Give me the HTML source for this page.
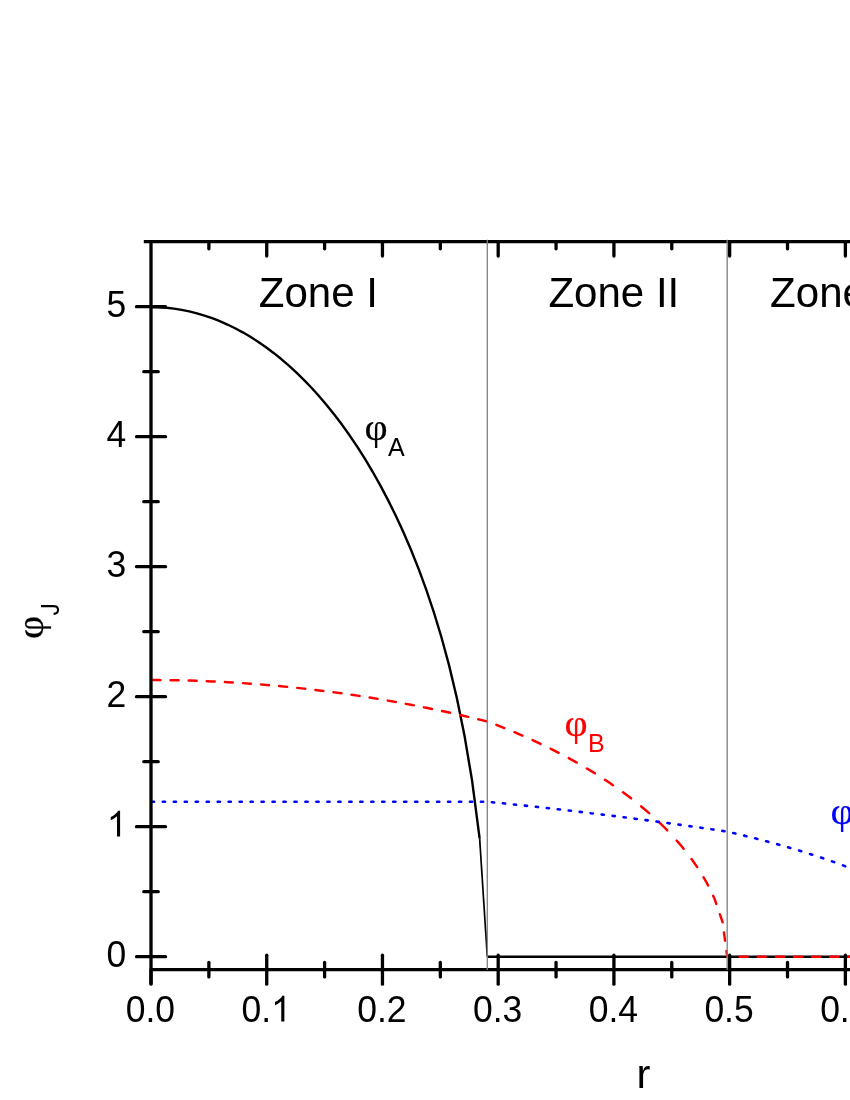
<!DOCTYPE html>
<html><head><meta charset="utf-8"><title>phi</title>
<style>
html,body{margin:0;padding:0;background:#fff;}
body{width:850px;height:1100px;overflow:hidden;}
svg{display:block;will-change:transform;}
text{font-family:"Liberation Sans",sans-serif;fill:inherit;}
.tk{font-size:36.7px;fill:#000;}
.zn{font-size:42.9px;fill:#000;}
.ax{font-size:41px;fill:#000;}
.ph{font-family:"Liberation Serif",serif;font-size:38.6px;}
.sb{font-size:25.9px;}
</style></head><body>
<svg width="850" height="1100" viewBox="0 0 850 1100">
<rect width="850" height="1100" fill="#fff"/>
<path d="M151.00,307.09 L158.64,307.26 L166.29,307.78 L173.93,308.64 L181.57,309.85 L189.22,311.41 L196.86,313.32 L204.50,315.58 L212.15,318.20 L219.79,321.18 L227.43,324.53 L235.07,328.25 L242.72,332.34 L250.36,336.83 L258.00,341.70 L265.65,346.98 L273.29,352.68 L280.93,358.79 L288.58,365.34 L296.22,372.35 L303.86,379.82 L311.51,387.77 L319.15,396.22 L326.79,405.20 L334.44,414.73 L342.08,424.84 L349.72,435.56 L357.37,446.92 L365.01,458.98 L372.65,471.78 L380.30,485.38 L387.94,499.85 L395.58,515.29 L403.22,531.80 L410.87,549.53 L418.51,568.65 L426.15,589.41 L433.80,612.12 L441.44,637.23 L449.08,665.37 L456.73,697.46 L464.37,734.91 L472.01,780.17 L479.66,838.67" fill="none" stroke="#000" stroke-width="2.4" stroke-linejoin="round"/>
<path d="M479.66,838.67 L487.30,956.70" fill="none" stroke="#000" stroke-width="1.7"/>
<path d="M487.30,956.70 L860.00,956.70" fill="none" stroke="#000" stroke-width="2.4"/>
<path d="M152.45,680.06 L158.64,680.08 L160.45,680.10 M170.55,680.21 L173.93,680.25 L178.55,680.34 M188.65,680.58 L189.22,680.59 L196.65,680.82 M206.75,681.20 L212.15,681.43 L214.75,681.55 M224.85,682.06 L227.43,682.20 L232.85,682.52 M242.95,683.15 L250.36,683.67 L250.95,683.72 M261.05,684.50 L265.65,684.87 L269.05,685.16 M279.15,686.07 L280.93,686.24 L287.15,686.85 M297.25,687.89 L303.86,688.61 L305.25,688.77 M315.35,689.95 L319.15,690.41 L323.35,690.93 M333.45,692.24 L334.44,692.37 L341.45,693.33 M351.55,694.78 L357.37,695.64 L359.55,695.98 M369.65,697.56 L372.65,698.04 L377.65,698.86 M387.75,700.57 L387.94,700.60 L395.58,701.95 L395.75,701.98 M405.85,703.83 L410.87,704.77 L413.85,705.35 M423.95,707.33 L426.15,707.76 L431.95,708.95 M442.05,711.06 L449.08,712.57 L450.05,712.79 M460.15,715.04 L464.37,715.99 L468.15,716.87 M478.25,719.25 L479.66,719.59 L486.25,721.19 M496.35,724.89 L503.84,727.83 L504.35,728.04 M514.45,732.20 L520.04,734.57 L522.45,735.63 M532.55,740.14 L536.24,741.82 L540.55,743.86 M550.65,748.76 L552.44,749.64 L558.65,752.81 M568.75,758.14 L576.75,762.57 L576.75,762.57 M586.85,768.44 L592.95,772.11 L594.85,773.31 M604.95,779.77 L609.15,782.53 L612.95,785.15 M623.05,792.32 L625.35,793.99 L631.05,798.33 M641.15,806.37 L641.56,806.70 L649.15,813.19 M659.25,822.46 L665.86,828.92 L667.20,830.33 M676.70,840.59 L682.06,846.76 L683.61,848.72 M691.53,858.99 L697.22,867.12 M703.56,877.38 L706.37,882.04 L708.07,885.51 M713.10,895.78 L714.47,898.55 L716.31,903.91 M719.85,914.17 L722.57,922.04 L722.60,922.30 M723.97,932.57 L725.06,940.70 M726.43,950.96 L727.20,956.70 L729.55,956.70 M739.65,956.70 L747.65,956.70 M757.75,956.70 L765.75,956.70 M775.85,956.70 L783.85,956.70 M793.95,956.70 L801.95,956.70 M812.05,956.70 L820.05,956.70 M830.15,956.70 L838.15,956.70 M848.25,956.70 L856.25,956.70" fill="none" stroke="#f00" stroke-width="2.45" stroke-linecap="round" stroke-linejoin="round"/>
<path d="M151.85,801.74 L154.05,801.74 M162.82,801.74 L165.02,801.74 M173.79,801.74 L175.99,801.74 M184.76,801.74 L186.96,801.74 M195.73,801.74 L197.93,801.74 M206.70,801.74 L208.90,801.74 M217.67,801.74 L219.87,801.74 M228.64,801.74 L230.84,801.74 M239.61,801.74 L241.81,801.74 M250.58,801.74 L252.78,801.74 M261.55,801.74 L263.75,801.74 M272.52,801.74 L274.72,801.74 M283.49,801.74 L285.69,801.74 M294.46,801.74 L296.66,801.74 M305.43,801.74 L307.63,801.74 M316.40,801.74 L318.60,801.74 M327.37,801.74 L329.57,801.74 M338.34,801.74 L340.54,801.74 M349.31,801.74 L351.51,801.74 M360.28,801.74 L362.48,801.74 M371.25,801.74 L373.45,801.74 M382.22,801.74 L384.42,801.74 M393.19,801.74 L395.39,801.74 M404.16,801.74 L406.36,801.74 M415.13,801.74 L417.33,801.74 M426.10,801.74 L428.30,801.74 M437.07,801.74 L439.27,801.74 M448.04,801.74 L450.24,801.74 M459.01,801.74 L461.21,801.74 M469.98,801.74 L472.18,801.74 M480.95,801.74 L483.15,801.74 M491.92,802.21 L494.12,802.43 M502.89,803.33 L505.09,803.55 M513.86,804.47 L516.06,804.70 M524.83,805.64 L527.03,805.88 M535.80,806.83 L538.00,807.07 M546.77,808.05 L548.97,808.30 M557.74,809.29 L559.94,809.54 M568.71,810.56 L570.91,810.81 M579.68,811.85 L581.88,812.11 M590.65,813.16 L590.77,813.18 L592.85,813.43 M601.62,814.50 L602.35,814.59 L603.82,814.77 M612.59,815.87 L613.92,816.03 L614.79,816.14 M623.56,817.26 L625.49,817.50 L625.76,817.54 M634.53,818.67 L636.73,818.96 M645.50,820.11 L647.70,820.40 M656.47,821.57 L658.67,821.87 M667.44,823.06 L669.64,823.36 M678.41,824.57 L680.61,824.88 M689.38,826.11 L691.58,826.42 M700.35,827.67 L702.55,827.98 M711.32,829.25 L713.52,829.58 M722.29,830.86 L724.49,831.19 M733.26,833.01 L735.46,833.53 M744.23,835.63 L746.43,836.17 M755.20,838.36 L757.40,838.93 M766.17,841.21 L768.37,841.81 M777.14,844.19 L779.34,844.81 M788.11,847.29 L790.31,847.95 M799.08,850.55 L799.09,850.55 L801.28,851.23 M810.05,853.97 L810.66,854.16 L812.25,854.69 M821.02,857.58 L822.23,857.98 L823.22,858.32 M831.99,861.38 L833.81,862.01 L834.19,862.15 M842.96,865.40 L845.16,866.22 M853.93,869.69 L856.13,870.56" fill="none" stroke="#00f" stroke-width="2.6" stroke-linecap="round" stroke-linejoin="round"/>
<line x1="151.0" y1="239.95" x2="151.0" y2="984.2" stroke="#000" stroke-width="3.3"/>
<line x1="143.8" y1="241.6" x2="860" y2="241.6" stroke="#000" stroke-width="3.3"/>
<line x1="151.0" y1="969.7" x2="860" y2="969.7" stroke="#000" stroke-width="3.3"/>
<line x1="151.00" y1="969.7" x2="151.00" y2="984.2" stroke="#000" stroke-width="3.3" stroke-linecap="round"/>
<text transform="translate(150.40 1021.50) scale(0.967 1)" text-anchor="middle" class="tk">0.0</text>
<line x1="208.87" y1="962.5" x2="208.87" y2="976.9000000000001" stroke="#000" stroke-width="3.3" stroke-linecap="round"/>
<line x1="208.87" y1="241.6" x2="208.87" y2="248.79999999999998" stroke="#000" stroke-width="3.3" stroke-linecap="round"/>
<line x1="266.73" y1="955.2" x2="266.73" y2="984.2" stroke="#000" stroke-width="3.3" stroke-linecap="round"/>
<line x1="266.73" y1="241.6" x2="266.73" y2="256.1" stroke="#000" stroke-width="3.3" stroke-linecap="round"/>
<text transform="translate(241.47 1021.50) scale(0.967 1)" text-anchor="start" class="tk">0.</text>
<path transform="translate(271.16 1021.60) scale(0.017329 -0.017642)" d="M763 0L583 0L583 1147Q518 1085 412.5 1023Q307 961 223 930L223 1104Q374 1175 487 1276Q600 1377 647 1472L763 1472Z" fill="#000"/>
<line x1="324.60" y1="962.5" x2="324.60" y2="976.9000000000001" stroke="#000" stroke-width="3.3" stroke-linecap="round"/>
<line x1="324.60" y1="241.6" x2="324.60" y2="248.79999999999998" stroke="#000" stroke-width="3.3" stroke-linecap="round"/>
<line x1="382.46" y1="955.2" x2="382.46" y2="984.2" stroke="#000" stroke-width="3.3" stroke-linecap="round"/>
<line x1="382.46" y1="241.6" x2="382.46" y2="256.1" stroke="#000" stroke-width="3.3" stroke-linecap="round"/>
<text transform="translate(381.86 1021.50) scale(0.967 1)" text-anchor="middle" class="tk">0.2</text>
<line x1="440.32" y1="962.5" x2="440.32" y2="976.9000000000001" stroke="#000" stroke-width="3.3" stroke-linecap="round"/>
<line x1="440.32" y1="241.6" x2="440.32" y2="248.79999999999998" stroke="#000" stroke-width="3.3" stroke-linecap="round"/>
<line x1="498.19" y1="955.2" x2="498.19" y2="984.2" stroke="#000" stroke-width="3.3" stroke-linecap="round"/>
<line x1="498.19" y1="241.6" x2="498.19" y2="256.1" stroke="#000" stroke-width="3.3" stroke-linecap="round"/>
<text transform="translate(497.59 1021.50) scale(0.967 1)" text-anchor="middle" class="tk">0.3</text>
<line x1="556.06" y1="962.5" x2="556.06" y2="976.9000000000001" stroke="#000" stroke-width="3.3" stroke-linecap="round"/>
<line x1="556.06" y1="241.6" x2="556.06" y2="248.79999999999998" stroke="#000" stroke-width="3.3" stroke-linecap="round"/>
<line x1="613.92" y1="955.2" x2="613.92" y2="984.2" stroke="#000" stroke-width="3.3" stroke-linecap="round"/>
<line x1="613.92" y1="241.6" x2="613.92" y2="256.1" stroke="#000" stroke-width="3.3" stroke-linecap="round"/>
<text transform="translate(613.32 1021.50) scale(0.967 1)" text-anchor="middle" class="tk">0.4</text>
<line x1="671.78" y1="962.5" x2="671.78" y2="976.9000000000001" stroke="#000" stroke-width="3.3" stroke-linecap="round"/>
<line x1="671.78" y1="241.6" x2="671.78" y2="248.79999999999998" stroke="#000" stroke-width="3.3" stroke-linecap="round"/>
<line x1="729.65" y1="955.2" x2="729.65" y2="984.2" stroke="#000" stroke-width="3.3" stroke-linecap="round"/>
<line x1="729.65" y1="241.6" x2="729.65" y2="256.1" stroke="#000" stroke-width="3.3" stroke-linecap="round"/>
<text transform="translate(729.05 1021.50) scale(0.967 1)" text-anchor="middle" class="tk">0.5</text>
<line x1="787.51" y1="962.5" x2="787.51" y2="976.9000000000001" stroke="#000" stroke-width="3.3" stroke-linecap="round"/>
<line x1="787.51" y1="241.6" x2="787.51" y2="248.79999999999998" stroke="#000" stroke-width="3.3" stroke-linecap="round"/>
<line x1="845.38" y1="955.2" x2="845.38" y2="984.2" stroke="#000" stroke-width="3.3" stroke-linecap="round"/>
<line x1="845.38" y1="241.6" x2="845.38" y2="256.1" stroke="#000" stroke-width="3.3" stroke-linecap="round"/>
<text transform="translate(844.78 1021.50) scale(0.967 1)" text-anchor="middle" class="tk">0.6</text>
<line x1="903.25" y1="962.5" x2="903.25" y2="976.9000000000001" stroke="#000" stroke-width="3.3" stroke-linecap="round"/>
<line x1="903.25" y1="241.6" x2="903.25" y2="248.79999999999998" stroke="#000" stroke-width="3.3" stroke-linecap="round"/>
<line x1="136.5" y1="956.70" x2="165.5" y2="956.70" stroke="#000" stroke-width="3.3" stroke-linecap="round"/>
<text transform="translate(126.30 966.50) scale(0.967 1)" text-anchor="end" class="tk">0</text>
<line x1="143.8" y1="891.70" x2="158.2" y2="891.70" stroke="#000" stroke-width="3.3" stroke-linecap="round"/>
<line x1="136.5" y1="826.70" x2="165.5" y2="826.70" stroke="#000" stroke-width="3.3" stroke-linecap="round"/>
<path transform="translate(106.87 836.60) scale(0.017329 -0.017642)" d="M763 0L583 0L583 1147Q518 1085 412.5 1023Q307 961 223 930L223 1104Q374 1175 487 1276Q600 1377 647 1472L763 1472Z" fill="#000"/>
<line x1="143.8" y1="761.70" x2="158.2" y2="761.70" stroke="#000" stroke-width="3.3" stroke-linecap="round"/>
<line x1="136.5" y1="696.70" x2="165.5" y2="696.70" stroke="#000" stroke-width="3.3" stroke-linecap="round"/>
<text transform="translate(126.30 706.50) scale(0.967 1)" text-anchor="end" class="tk">2</text>
<line x1="143.8" y1="631.70" x2="158.2" y2="631.70" stroke="#000" stroke-width="3.3" stroke-linecap="round"/>
<line x1="136.5" y1="566.70" x2="165.5" y2="566.70" stroke="#000" stroke-width="3.3" stroke-linecap="round"/>
<text transform="translate(126.30 576.50) scale(0.967 1)" text-anchor="end" class="tk">3</text>
<line x1="143.8" y1="501.70" x2="158.2" y2="501.70" stroke="#000" stroke-width="3.3" stroke-linecap="round"/>
<line x1="136.5" y1="436.70" x2="165.5" y2="436.70" stroke="#000" stroke-width="3.3" stroke-linecap="round"/>
<text transform="translate(126.30 446.50) scale(0.967 1)" text-anchor="end" class="tk">4</text>
<line x1="143.8" y1="371.70" x2="158.2" y2="371.70" stroke="#000" stroke-width="3.3" stroke-linecap="round"/>
<line x1="136.5" y1="306.70" x2="165.5" y2="306.70" stroke="#000" stroke-width="3.3" stroke-linecap="round"/>
<text transform="translate(126.30 316.50) scale(0.967 1)" text-anchor="end" class="tk">5</text>
<line x1="487.30" y1="239.7" x2="487.30" y2="969.9000000000001" stroke="#808080" stroke-width="1.3"/>
<line x1="727.20" y1="239.7" x2="727.20" y2="969.9000000000001" stroke="#808080" stroke-width="1.3"/>
<text transform="translate(258.80 306.70) scale(0.98 1)" text-anchor="start" class="zn">Zone I</text>
<text transform="translate(548.40 306.70) scale(0.98 1)" text-anchor="start" class="zn">Zone II</text>
<text transform="translate(770.10 306.70) scale(0.98 1)" text-anchor="start" class="zn">Zone III</text>
<text transform="translate(636.60 1087.80) scale(1.02 1)" text-anchor="start" class="ax">r</text>
<g fill="#000"><text transform="translate(364.5 440) scale(1.04 1)" class="ph" stroke="#000" stroke-width="0.2">φ</text><text transform="translate(387.9 455.8) scale(0.967 1)" class="sb">A</text></g>
<g fill="#f00"><text transform="translate(564.5 735.8) scale(1.04 1)" class="ph" stroke="#f00" stroke-width="0.2">φ</text><text transform="translate(587.9 751.5999999999999) scale(0.967 1)" class="sb">B</text></g>
<g fill="#00f"><text transform="translate(830.6 824.3) scale(1.04 1)" class="ph" stroke="#00f" stroke-width="0.2">φ</text><text transform="translate(854.0 840.0999999999999) scale(0.967 1)" class="sb">C</text></g>
<g transform="rotate(-90 43 639)" fill="#000"><text transform="translate(43 639) scale(1.04 1)" class="ph" stroke="#000" stroke-width="0.2">φ</text><path transform="translate(66.4 654.8) scale(0.012231 -0.012158)" d="M59 416L235 440Q242 271 298.5 209Q355 147 455 147Q529 147 582.5 181Q636 215 656.5 273Q677 331 677 459L677 1466L871 1466L871 470Q871 287 826.5 186Q782 85 686 32.5Q590 -20 461 -20Q269 -20 167 90Q65 200 59 416Z"/></g>
</svg>
</body></html>
